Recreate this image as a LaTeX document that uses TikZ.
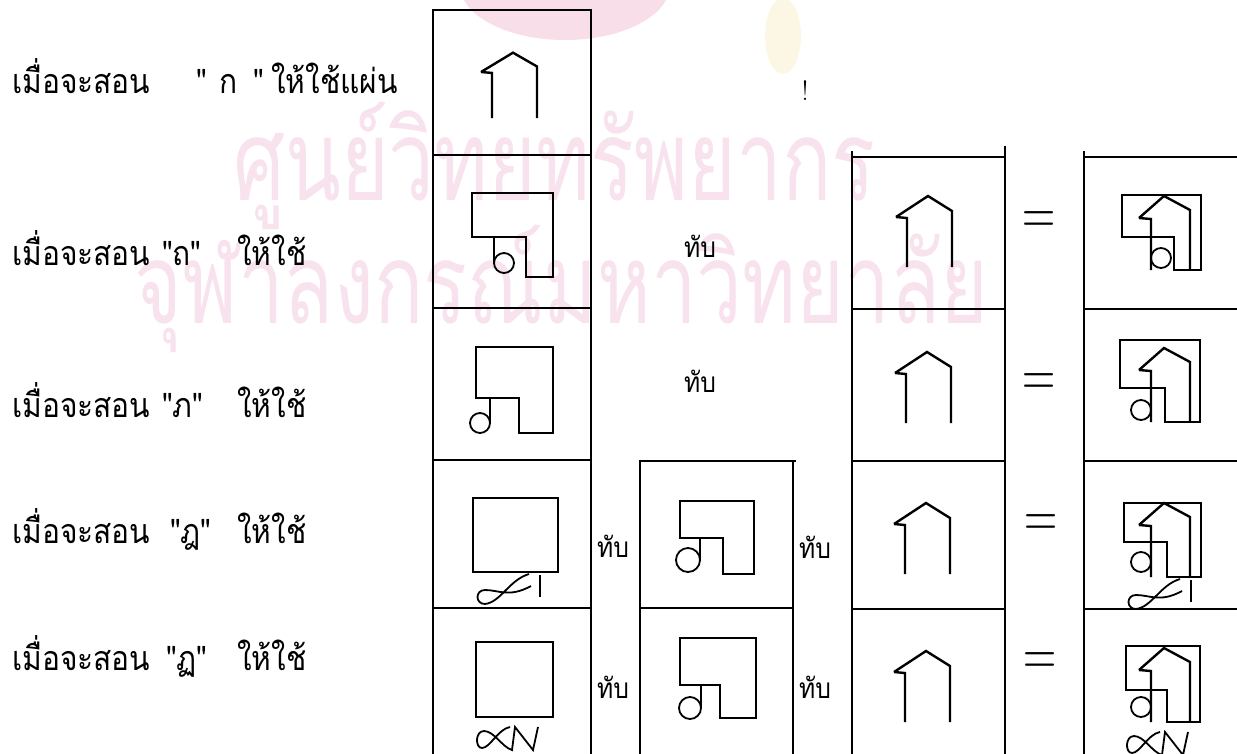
\documentclass[tikz,border=0pt]{standalone}
\usepackage{fontspec}
\newfontfamily\thaifont[Script=Thai, FakeStretch=0.88]{Loma}
\newfontfamily\wmfont[Script=Thai, FakeStretch=0.73]{Loma}
\definecolor{wmpink}{RGB}{247,226,238}
\definecolor{logopink}{RGB}{248,222,232}
\definecolor{logoyel}{RGB}{252,247,228}
\tikzset{
  gridline/.style={line width=2.6pt, line cap=rect},
  fig/.style={line width=2.4pt, line join=miter},
  thin fig/.style={line width=1.8pt},
  lbl/.style={font=\thaifont\fontsize{34}{34}\selectfont, anchor=base west, inner sep=0pt},
  tablbl/.style={font=\thaifont\fontsize{28}{28}\selectfont, anchor=base, inner sep=0pt},
  eqsign/.style={font=\fontsize{46}{46}\selectfont, inner sep=0pt},
  wmark/.style={font=\wmfont\fontsize{112}{112}\selectfont, text=wmpink, anchor=base west, inner sep=0pt},
  house/.pic={\draw[fig] (-11,-50) -- (21,-71) -- (45,-56) -- (45,0); \draw[fig] (-11,-50) -- (0,-49) -- (0,0);},
  smallhouse/.pic={\draw[fig] (-12,-52) -- (13,-74) -- (39,-60) -- (39,0); \draw[fig] (-12,-52) -- (0,-51) -- (0,0);},
}
\newcommand{\notchsq}[6]{%
  \draw[fig] (#1,{#2+#5}) -- (#1,#2) -- ({#1+#3},#2) -- ({#1+#3},{#2+#4}) -- ({#1+#6},{#2+#4}) -- ({#1+#6},{#2+#5}) -- cycle;}
\newcommand{\dadotail}[2]{%
  \draw[thin fig] ({#1+56},{#2+2}) .. controls ({#1+36},{#2+8}) and ({#1+28},{#2+30}) .. ({#1+12},{#2+32}) .. controls ({#1+2},{#2+32}) and ({#1+2},{#2+18}) .. ({#1+12},{#2+18}) .. controls ({#1+26},{#2+18}) and ({#1+36},{#2+26}) .. ({#1+58},{#2+14});
  \draw[thin fig] ({#1+67},{#2+3}) -- ({#1+67},{#2+25});}
\newcommand{\patoktail}[2]{%
  \draw[thin fig] ({#1+34},{#2+10}) .. controls ({#1+22},{#2+12}) and ({#1+14},{#2+31}) .. ({#1+6},{#2+31}) .. controls ({#1-1},{#2+31}) and ({#1-1},{#2+14}) .. ({#1+8},{#2+14}) .. controls ({#1+18},{#2+14}) and ({#1+26},{#2+30}) .. ({#1+36},{#2+33}) -- ({#1+39},{#2+10}) -- ({#1+57},{#2+33}) -- ({#1+62},{#2+10});}
\begin{document}
\begin{tikzpicture}[x=1pt,y=-1pt]
\useasboundingbox (0,0) rectangle (1237,753);
\clip (0,0) rectangle (1237,753);
% faint emblem and watermark
\fill[logopink] (565,-15) ellipse [x radius=105pt, y radius=55pt];
\fill[logoyel] (783,36) ellipse [x radius=18pt, y radius=38pt];
\node[wmark] (wm1) at (233,200) {ศูนย์วิทยทรัพยากร};
\node[wmark] (wm2) at (134,323) {จุฬาลงกรณ์มหาวิทยาลัย};
% left texts
\node[lbl] (t1a) at (12,93) {เมื่อจะสอน};
\node[lbl] (t1b) at (196,93) {"};
\node[lbl] (t1c) at (219,93) {ก};
\node[lbl] (t1d) at (253,93) {"};
\node[lbl] (t1e) at (271,93) {ให้ใช้แผ่น};
\node[lbl] (t2a) at (12,265) {เมื่อจะสอน};
\node[lbl] (t2b) at (162,265) {"ถ"};
\node[lbl] (t2c) at (237,265) {ให้ใช้};
\node[lbl] (t3a) at (12,417) {เมื่อจะสอน};
\node[lbl] (t3b) at (162,417) {"ภ"};
\node[lbl] (t3c) at (237,417) {ให้ใช้};
\node[lbl] (t4a) at (12,543) {เมื่อจะสอน};
\node[lbl] (t4b) at (170,543) {"ฎ"};
\node[lbl] (t4c) at (237,543) {ให้ใช้};
\node[lbl] (t5a) at (12,670) {เมื่อจะสอน};
\node[lbl] (t5b) at (166,670) {"ฏ"};
\node[lbl] (t5c) at (237,670) {ให้ใช้};
\node[font=\fontsize{28}{28}\selectfont, anchor=base, inner sep=0pt] (bang) at (805,100) {!};
% column 1
\draw[gridline] (433,10) -- (433,753);
\draw[gridline] (591,10) -- (591,753);
\foreach \yy in {10,155,308,460,608} \draw[gridline] (433,\yy) -- (591,\yy);
% column 2
\draw[gridline] (640,461) -- (640,753);
\draw[gridline] (793,461) -- (793,753);
\draw[gridline] (640,461) -- (795,461);
\draw[gridline] (640,608) -- (793,608);
% column 3
\draw[gridline] (852,152) -- (852,753);
\draw[gridline] (1005,147) -- (1005,753);
\foreach \yy in {157,309,461,609} \draw[gridline] (852,\yy) -- (1005,\yy);
% column 4
\draw[gridline] (1084,152) -- (1084,753);
\foreach \yy in {157,309,461,609} \draw[gridline] (1084,\yy) -- (1240,\yy);
% tab labels
\node[tablbl] (tab2) at (700,257) {ทับ};
\node[tablbl] (tab3) at (700,392) {ทับ};
\node[tablbl] (tab4a) at (613,557) {ทับ};
\node[tablbl] (tab4b) at (815,558) {ทับ};
\node[tablbl] (tab5a) at (613,698) {ทับ};
\node[tablbl] (tab5b) at (815,698) {ทับ};
% equal signs
\node[eqsign] (eq2) at (1039,223) {\scalebox{1}[1.4]{=}};
\node[eqsign] (eq3) at (1039,385) {\scalebox{1}[1.4]{=}};
\node[eqsign] (eq4) at (1041,526) {\scalebox{1}[1.4]{=}};
\node[eqsign] (eq5) at (1040,664) {\scalebox{1}[1.4]{=}};
% column 1 figures
\pic[yscale=0.92] at (492,118) {house};
\notchsq{472}{193}{81}{84}{44}{54}
\draw[thin fig] (504,263) circle[radius=10pt];
\draw[fig] (494,237) -- (494,263);
\notchsq{476}{347}{77}{86}{51}{43}
\draw[thin fig] (480,423) circle[radius=10pt];
\draw[fig] (490,398) -- (490,423);
\draw[fig] (473,498) rectangle (558,572);
\dadotail{473}{572}
\draw[fig] (476,642) rectangle (553,717);
\patoktail{476}{717}
% column 2 figures
\notchsq{680}{501}{74}{73}{37}{43}
\draw[thin fig] (688,560) circle[radius=12pt];
\draw[fig] (700,538) -- (700,560);
\notchsq{680}{638}{76}{80}{47}{40}
\draw[thin fig] (690,708) circle[radius=11pt];
\draw[fig] (701,685) -- (701,708);
% column 3 houses
\pic at (907,267) {house};
\pic at (906,423) {house};
\pic at (905,574) {house};
\pic at (905,722) {house};
% column 4 overlays
\notchsq{1122}{195}{79}{75}{42}{52}
\draw[thin fig] (1161,258) circle[radius=10pt];
\pic at (1151,270) {smallhouse};
\notchsq{1120}{340}{80}{82}{48}{45}
\draw[thin fig] (1141,410) circle[radius=10pt];
\pic at (1151,422) {smallhouse};
\notchsq{1124}{503}{77}{74}{39}{43}
\draw[thin fig] (1141,562) circle[radius=10pt];
\pic at (1151,577) {smallhouse};
\dadotail{1124}{577}
\notchsq{1126}{646}{74}{76}{44}{41}
\draw[thin fig] (1141,707) circle[radius=10pt];
\pic at (1151,722) {smallhouse};
\patoktail{1126}{722}
\end{tikzpicture}
\end{document}
